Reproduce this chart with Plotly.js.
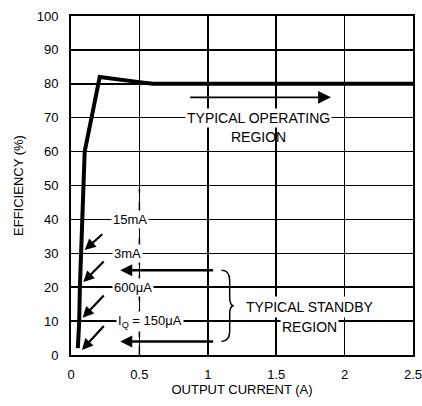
<!DOCTYPE html>
<html><head><meta charset="utf-8">
<script src="https://cdn.plot.ly/plotly-3.0.1.min.js"></script>
<style>body{margin:0;background:#fff}#c{width:422px;height:406px}</style>
</head><body><div id="c"></div>
<script>
const currentA = [0.05, 0.06, 0.065, 0.075, 0.085, 0.1, 0.15, 0.21, 0.5, 0.6, 2.5];
const efficiencyPct = [2, 10, 20, 30, 45, 60, 70, 82, 80.5, 80, 80];
const xTicks = [0, 0.5, 1, 1.5, 2, 2.5];
const xTickText = ['0', '0.5', '1', '1.5', '2', '2.5'];
const yTicks = [0, 10, 20, 30, 40, 50, 60, 70, 80, 90, 100];
const standbyLabels = ['15mA', '3mA', '600\u03bcA', 'I<sub>Q</sub> = 150\u03bcA'];
const labelX = [0.43, 0.41, 0.45, 0.58];
const labelY = [40, 30, 20, 10];
const arrowTailX = [0.24, 0.25, 0.25, 0.25];
const arrowTailY = [36, 28, 18, 9];
const arrowTipX = [0.1, 0.09, 0.085, 0.08];
const arrowTipY = [31, 21.5, 11, 1.5];

const font = "'Liberation Sans Narrow','Arial Narrow','Liberation Sans',Arial,sans-serif";
const trace = {x: currentA, y: efficiencyPct, mode: 'lines', line: {color: '#000', width: 4}, hoverinfo: 'none', showlegend: false};

const ann = [];
for (let i = 0; i < standbyLabels.length; i++) {
  ann.push({x: labelX[i], y: labelY[i], text: standbyLabels[i], showarrow: false, bgcolor: '#fff', font: {family: font, size: 13, color: '#000'}, borderpad: 1});
  ann.push({x: arrowTipX[i], y: arrowTipY[i], ax: arrowTailX[i], ay: arrowTailY[i], axref: 'x', ayref: 'y', text: '', showarrow: true, arrowhead: 2, arrowsize: 1, arrowwidth: 2.2, arrowcolor: '#000'});
}
// standby arrows
ann.push({x: 0.36, y: 25, ax: 1.05, ay: 25, axref: 'x', ayref: 'y', text: '', showarrow: true, arrowhead: 2, arrowsize: 1, arrowwidth: 2.4, arrowcolor: '#000'});
ann.push({x: 0.36, y: 4, ax: 1.05, ay: 4, axref: 'x', ayref: 'y', text: '', showarrow: true, arrowhead: 2, arrowsize: 1, arrowwidth: 2.4, arrowcolor: '#000'});
ann.push({x: 1.745, y: 14.2, text: 'TYPICAL STANDBY', showarrow: false, bgcolor: '#fff', font: {family: font, size: 14, color: '#000'}, borderpad: 2});
ann.push({x: 1.745, y: 8.4, text: 'REGION', showarrow: false, bgcolor: '#fff', font: {family: font, size: 14, color: '#000'}, borderpad: 1});
// operating region
ann.push({x: 1.9, y: 76, ax: 0.86, ay: 76, axref: 'x', ayref: 'y', text: '', showarrow: true, arrowhead: 2, arrowsize: 1.6, arrowwidth: 1.6, arrowcolor: '#000'});
ann.push({x: 1.37, y: 70, text: 'TYPICAL OPERATING', showarrow: false, bgcolor: '#fff', font: {family: font, size: 14, color: '#000'}, borderpad: 1});
ann.push({x: 1.37, y: 64.3, text: 'REGION', showarrow: false, font: {family: font, size: 14, color: '#000'}});

const shapes = [
  {type: 'line', xref: 'x', yref: 'y', x0: 0.5, x1: 0.5, y0: 0, y1: 49, line: {color: '#fff', width: 3}, layer: 'below'},
  {type: 'line', xref: 'x', yref: 'y', x0: 0.5, x1: 0.5, y0: 0, y1: 49, line: {color: '#000', width: 1.5, dash: 'dash'}, layer: 'below'},
  {type: 'path', xref: 'x', yref: 'y', layer: 'above', line: {color: '#000', width: 1.5},
   path: 'M 1.1,25 Q 1.16,25 1.16,22 L 1.16,17 Q 1.16,14.5 1.19,14.5 Q 1.16,14.5 1.16,12 L 1.16,7 Q 1.16,4 1.1,4'}
];

const layout = {
  width: 422, height: 406,
  margin: {l: 71, r: 9, t: 16, b: 51},
  paper_bgcolor: '#fff', plot_bgcolor: '#fff',
  font: {family: font, size: 13, color: '#000'},
  xaxis: {range: [0, 2.5], tickvals: xTicks, ticktext: xTickText, showgrid: true, gridcolor: '#000', gridwidth: 1.5,
          showline: true, linecolor: '#000', linewidth: 2, mirror: true, zeroline: false, ticks: '', ticklen: 0,
          ticklabelstandoff: 6, ticklabeloverflow: 'allow',
          tickfont: {family: font, size: 13}, title: {text: 'OUTPUT CURRENT (A)', font: {family: font, size: 13}, standoff: 4}},
  yaxis: {range: [0, 100], tickvals: yTicks, showgrid: true, gridcolor: '#000', gridwidth: 1.5,
          showline: true, linecolor: '#000', linewidth: 2, mirror: true, zeroline: false, ticks: '', ticklen: 0,
          ticklabelstandoff: 8,
          tickfont: {family: font, size: 13}, title: {text: 'EFFICIENCY (%)', font: {family: font, size: 13}, standoff: 10}},
  annotations: ann, shapes: shapes, showlegend: false
};
Plotly.newPlot('c', [trace], layout, {staticPlot: true, displayModeBar: false});
</script></body></html>
